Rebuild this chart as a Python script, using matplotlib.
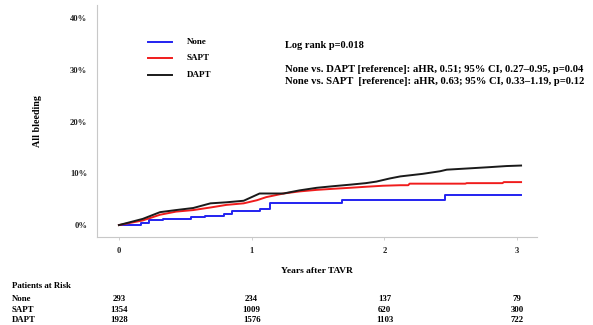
import matplotlib.pyplot as plt

# cumulative incidence of all bleeding (%)
none_t = [0, 0.17, 0.23, 0.33, 0.54, 0.65, 0.79, 0.85, 1.06, 1.14, 1.68, 2.46, 3.03]
none_y = [0, 0.5, 0.9, 1.1, 1.5, 1.8, 2.2, 2.7, 3.2, 4.3, 4.8, 5.8, 5.8]

sapt_t = [0, 0.18, 0.31, 0.43, 0.56, 0.69, 0.81, 0.94, 1.04, 1.11, 1.24, 1.36, 1.49, 1.61,
          1.74, 1.86, 1.99, 2.12, 2.18, 2.19, 2.61, 2.62, 2.89, 2.90, 3.03]
sapt_y = [0, 0.9, 2.0, 2.6, 2.9, 3.4, 3.9, 4.2, 4.8, 5.4, 6.1, 6.5, 6.8, 7.0,
          7.2, 7.4, 7.6, 7.7, 7.7, 8.0, 8.0, 8.1, 8.1, 8.3, 8.3]

dapt_t = [0, 0.18, 0.31, 0.43, 0.56, 0.69, 0.81, 0.94, 1.06, 1.24, 1.36, 1.49, 1.61, 1.74,
          1.86, 1.94, 2.04, 2.12, 2.29, 2.42, 2.47, 2.67, 2.80, 2.92, 3.03]
dapt_y = [0, 1.2, 2.5, 2.9, 3.3, 4.2, 4.4, 4.7, 6.1, 6.1, 6.7, 7.2, 7.5, 7.8,
          8.1, 8.4, 9.0, 9.4, 9.9, 10.4, 10.7, 11.0, 11.2, 11.4, 11.5]

groups = ['None', 'SAPT', 'DAPT']
colors = ['#2323f0', '#f01c1c', '#1a1a1a']
risk_years = [0, 1, 2, 3]
risk_none = [293, 234, 137, 79]
risk_sapt = [1354, 1009, 620, 300]
risk_dapt = [1928, 1576, 1103, 722]

FONT = 'Liberation Serif'
W, H = 593, 325

fig = plt.figure(figsize=(W / 100, H / 100), dpi=100)
ax = fig.add_axes([97 / W, 1 - 237 / H, (537 - 97) / W, (237 - 5) / H])

ax.step(none_t, none_y, where='post', color=colors[0], lw=1.4)
ax.plot(sapt_t, sapt_y, color=colors[1], lw=1.4)
ax.plot(dapt_t, dapt_y, color=colors[2], lw=1.4)

ax.set_xlim(-0.165, 3.15)
ax.set_ylim(-2.3, 42.5)
ax.set_xticks(risk_years)
ax.set_yticks([0, 10, 20, 30, 40])
ax.set_yticklabels(['0%', '10%', '20%', '30%', '40%'])
for s in ['top', 'right']:
    ax.spines[s].set_visible(False)
for s in ['left', 'bottom']:
    ax.spines[s].set_color('#c8c8c8')
    ax.spines[s].set_linewidth(0.8)
ax.tick_params(axis='both', colors='#c8c8c8', length=2, width=0.6)
ax.tick_params(axis='y', length=0, pad=7)
ax.tick_params(axis='x', pad=5)
for lab in ax.get_xticklabels() + ax.get_yticklabels():
    lab.set_fontfamily(FONT)
    lab.set_fontweight('bold')
    lab.set_fontsize(6.2)
    lab.set_color('#222222')

ax.set_ylabel('All bleeding', fontfamily=FONT, fontweight='bold', fontsize=7.2, labelpad=20)
ax.set_xlabel('Years after TAVR', fontfamily=FONT, fontweight='bold', fontsize=6.8, labelpad=9)

# legend drawn by hand, as in the figure
ly = [42, 58, 75]
for g, c, y in zip(groups, colors, ly):
    fig.add_artist(plt.Line2D([148 / W, 172 / W], [1 - y / H, 1 - y / H], color=c, lw=1.4))
    fig.text(187 / W, 1 - y / H, g, fontfamily=FONT, fontweight='bold', fontsize=6.5, va='center')

fig.text(285 / W, 1 - 45 / H, 'Log rank p=0.018', fontfamily=FONT, fontweight='bold', fontsize=7.5, va='center')
fig.text(285 / W, 1 - 70 / H, 'None vs. DAPT [reference]: aHR, 0.51; 95% CI, 0.27\u20130.95, p=0.04',
         fontfamily=FONT, fontweight='bold', fontsize=7.7, va='center')
fig.text(285 / W, 1 - 82 / H, 'None vs. SAPT  [reference]: aHR, 0.63; 95% CI, 0.33\u20131.19, p=0.12',
         fontfamily=FONT, fontweight='bold', fontsize=7.7, va='center')

# numbers at risk
fig.text(12 / W, 1 - 286 / H, 'Patients at Risk', fontfamily=FONT, fontweight='bold', fontsize=6.3, va='center')
rows = [risk_none, risk_sapt, risk_dapt]
row_y = [299, 310, 320]
for g, vals, y in zip(groups, rows, row_y):
    fig.text(12 / W, 1 - y / H, g, fontfamily=FONT, fontweight='bold', fontsize=6.3, va='center')
    for yr, v in zip(risk_years, vals):
        xf = ax.transData.transform((yr, 0))[0] / fig.bbox.width
        fig.text(xf, 1 - y / H, str(v), fontfamily=FONT, fontweight='bold', fontsize=6.3,
                 va='center', ha='center')

plt.savefig('out.png', dpi=100)
